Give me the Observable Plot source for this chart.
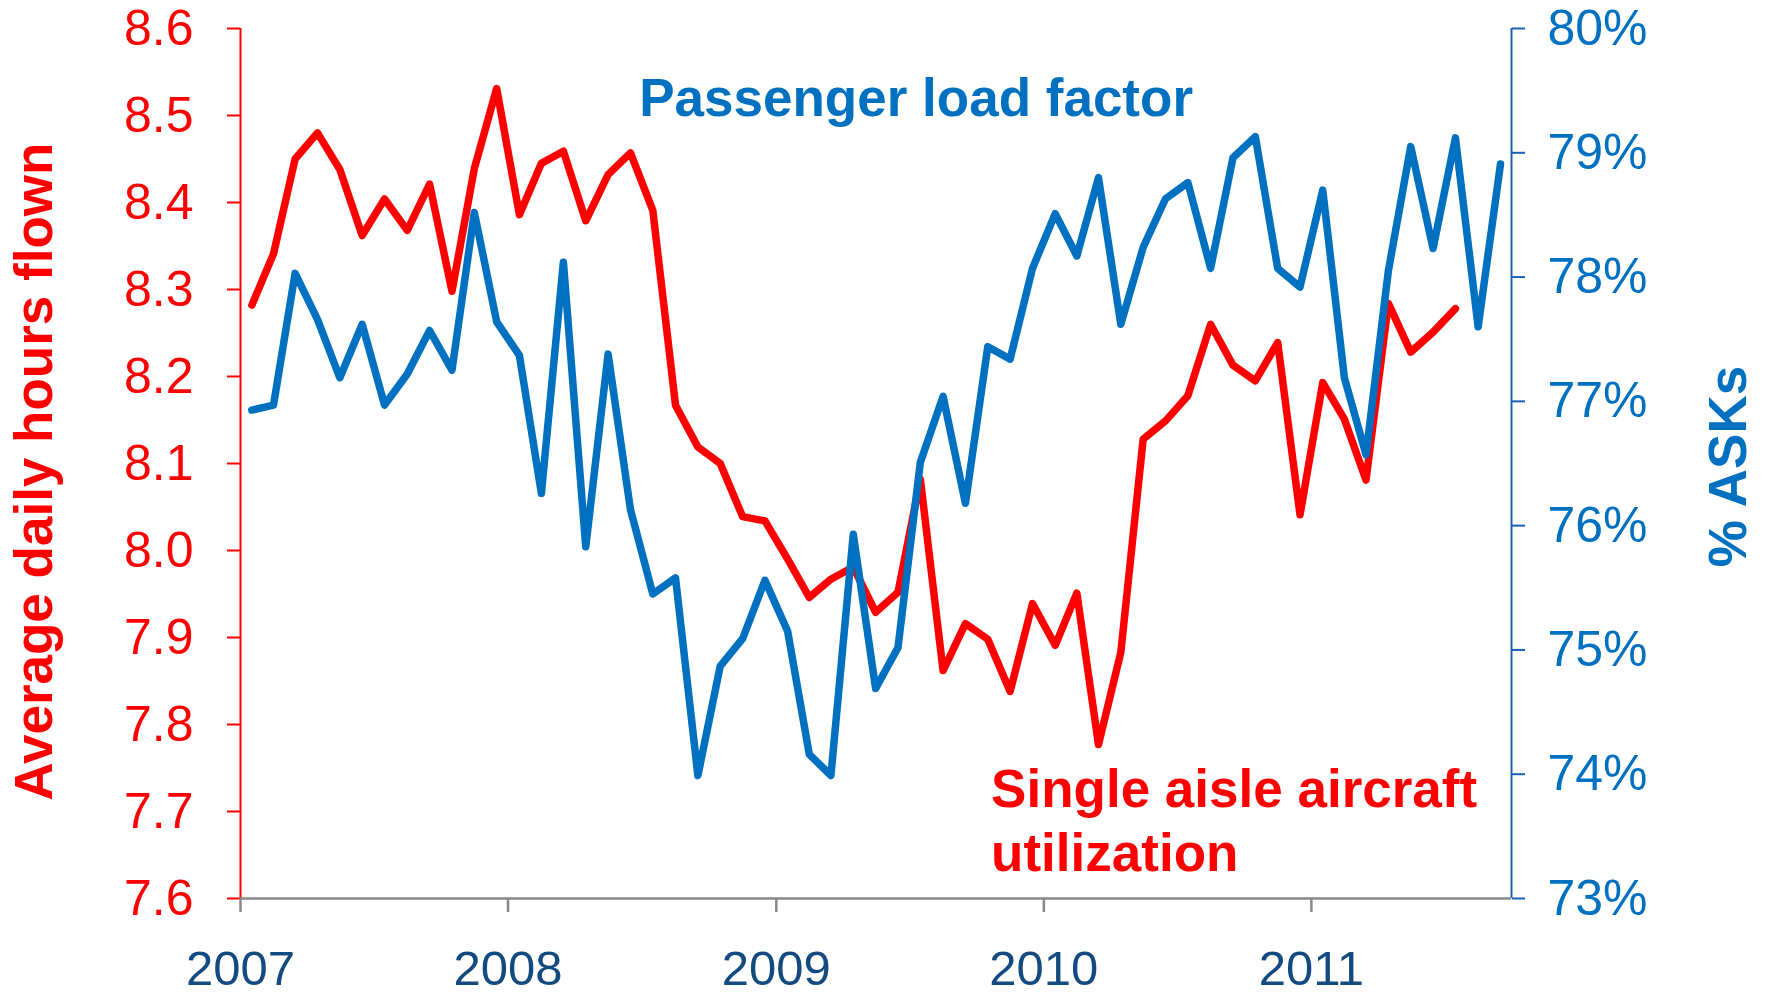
<!DOCTYPE html>
<html>
<head>
<meta charset="utf-8">
<script src="https://cdn.jsdelivr.net/npm/d3@7"></script>
<script src="https://cdn.jsdelivr.net/npm/@observablehq/plot@0.6"></script>
<style>
  html, body { margin: 0; padding: 0; background: #fff; }
  #chart { width: 1766px; height: 996px; }
</style>
</head>
<body>
<div id="chart"></div>
<script>
// ---- Data ----
const months = [
  "2007-01","2007-02","2007-03","2007-04","2007-05","2007-06","2007-07","2007-08","2007-09","2007-10","2007-11","2007-12",
  "2008-01","2008-02","2008-03","2008-04","2008-05","2008-06","2008-07","2008-08","2008-09","2008-10","2008-11","2008-12",
  "2009-01","2009-02","2009-03","2009-04","2009-05","2009-06","2009-07","2009-08","2009-09","2009-10","2009-11","2009-12",
  "2010-01","2010-02","2010-03","2010-04","2010-05","2010-06","2010-07","2010-08","2010-09","2010-10","2010-11","2010-12",
  "2011-01","2011-02","2011-03","2011-04","2011-05","2011-06","2011-07","2011-08","2011-09"
];

// Single aisle aircraft utilization (average daily hours flown), Jan 2007 - Jul 2011
const utilization = [
  8.282, 8.341, 8.450, 8.480, 8.438, 8.362, 8.404, 8.368, 8.421, 8.298, 8.439, 8.531,
  8.386, 8.445, 8.459, 8.379, 8.432, 8.457, 8.391, 8.167, 8.119, 8.100, 8.039, 8.034,
  7.990, 7.946, 7.967, 7.981, 7.929, 7.952, 8.082, 7.862, 7.916, 7.898, 7.838, 7.939,
  7.891, 7.951, 7.777, 7.883, 8.128, 8.149, 8.178, 8.260, 8.213, 8.195, 8.239, 8.041,
  8.193, 8.151, 8.081, 8.284, 8.228, 8.251, 8.278
];

// Passenger load factor (% ASKs), Jan 2007 - Sep 2011
const loadFactor = [
  76.93, 76.97, 78.03, 77.66, 77.19, 77.62, 76.97, 77.22, 77.57, 77.25, 78.52, 77.64,
  77.37, 76.26, 78.12, 75.83, 77.38, 76.13, 75.45, 75.58, 73.99, 74.87, 75.09, 75.56,
  75.15, 74.16, 73.99, 75.93, 74.69, 75.02, 76.51, 77.04, 76.18, 77.44, 77.34, 78.07,
  78.51, 78.17, 78.80, 77.62, 78.24, 78.63, 78.76, 78.07, 78.96, 79.13, 78.07, 77.92,
  78.70, 77.19, 76.57, 78.05, 79.05, 78.23, 79.12, 77.60, 78.91
];

const leftTicks = [7.6, 7.7, 7.8, 7.9, 8.0, 8.1, 8.2, 8.3, 8.4, 8.5, 8.6];
const rightTicks = [73, 74, 75, 76, 77, 78, 79, 80];
const yearTicks = ["2007", "2008", "2009", "2010", "2011"];

const leftTitle = "Average daily hours flown";
const rightTitle = "% ASKs";
const annotations = [
  {text: "Passenger load factor", date: "2008-06-28", value: 8.499, color: "#0070C0"},
  {text: "Single aisle aircraft\nutilization", date: "2009-10-21", value: 7.632, color: "#FF0000"}
];

// ---- Helpers ----
const RED = "#FF0000";
const BLUE = "#0070C0";
const FONT = "'Liberation Sans', Arial, Helvetica, sans-serif";

function midMonth(m) {
  const [y, mo] = m.split("-").map(Number);
  const a = Date.UTC(y, mo - 1, 1), b = Date.UTC(y, mo, 1);
  return new Date((a + b) / 2);
}
const leftMin = leftTicks[0], leftMax = leftTicks[leftTicks.length - 1];
const rightMin = rightTicks[0], rightMax = rightTicks[rightTicks.length - 1];
const toLeft = p => leftMin + (p - rightMin) / (rightMax - rightMin) * (leftMax - leftMin);
const fromLeft = v => rightMin + (v - leftMin) / (leftMax - leftMin) * (rightMax - rightMin);

const xStart = new Date(Date.UTC(+months[0].slice(0, 4), +months[0].slice(5) - 1, 1));
const lastM = months[months.length - 1];
const xEnd = new Date(Date.UTC(+lastM.slice(0, 4), +lastM.slice(5), 1));

const utilData = utilization.map((v, i) => ({date: midMonth(months[i]), value: v}));
const lfData = loadFactor.map((v, i) => ({date: midMonth(months[i]), value: toLeft(v)}));
const annData = annotations.map(a => ({...a, date: new Date(a.date + "T00:00:00Z")}));

const chart = Plot.plot({
  width: 1766,
  height: 996,
  marginTop: 28,
  marginBottom: 98,
  marginLeft: 240,
  marginRight: 255,
  style: {fontFamily: FONT, background: "#fff", overflow: "visible"},
  x: {type: "utc", domain: [xStart, xEnd]},
  y: {domain: [leftMin, leftMax]},
  marks: [
    // axis lines
    Plot.ruleX([xStart], {stroke: RED, strokeWidth: 2}),
    Plot.ruleX([xEnd], {stroke: "#1a5fb4", strokeWidth: 2}),
    // left axis
    Plot.axisY(leftTicks, {
      anchor: "left", label: null, tickSize: 13, tickPadding: 34,
      strokeWidth: 2, stroke: RED, fill: RED, fontSize: 50,
      tickFormat: d => d.toFixed(1)
    }),
    // right axis (load factor, mapped onto the left scale)
    Plot.axisY(rightTicks.map(toLeft), {
      anchor: "right", label: null, tickSize: 13, tickPadding: 23,
      strokeWidth: 2, stroke: "#1a5fb4", fill: BLUE, fontSize: 50,
      tickFormat: d => Math.round(fromLeft(d)) + "%"
    }),
    // bottom axis
    Plot.axisX(yearTicks.map(y => new Date(Date.UTC(+y, 0, 1))), {
      anchor: "bottom", label: null, tickSize: 14, tickPadding: 38,
      strokeWidth: 2.5, stroke: "#888888", fill: "#134a80", fontSize: 49,
      tickFormat: d => String(d.getUTCFullYear())
    }),
    Plot.ruleY([leftMin], {stroke: "#888888", strokeWidth: 2.5}),
    // data lines
    Plot.line(utilData, {x: "date", y: "value", stroke: RED, strokeWidth: 7.5,
      strokeLinejoin: "round", strokeLinecap: "round"}),
    Plot.line(lfData, {x: "date", y: "value", stroke: BLUE, strokeWidth: 7.5,
      strokeLinejoin: "round", strokeLinecap: "round"}),
    // annotations
    Plot.text(annData, {x: "date", y: "value", text: "text", fill: "color",
      textAnchor: "start", lineAnchor: "bottom", lineHeight: 1.21,
      fontSize: 53, fontWeight: "bold"}),
    // axis titles
    Plot.text([leftTitle], {frameAnchor: "left", text: d => d, rotate: -90,
      dx: -205, dy: 8, fill: RED, fontSize: 53, fontWeight: "bold",
      textAnchor: "middle", lineAnchor: "middle"}),
    Plot.text([rightTitle], {frameAnchor: "right", text: d => d, rotate: -90,
      dx: 218, dy: 3, fill: BLUE, fontSize: 53, fontWeight: "bold",
      textAnchor: "middle", lineAnchor: "middle"})
  ]
});

document.getElementById("chart").appendChild(chart);
</script>
</body>
</html>
